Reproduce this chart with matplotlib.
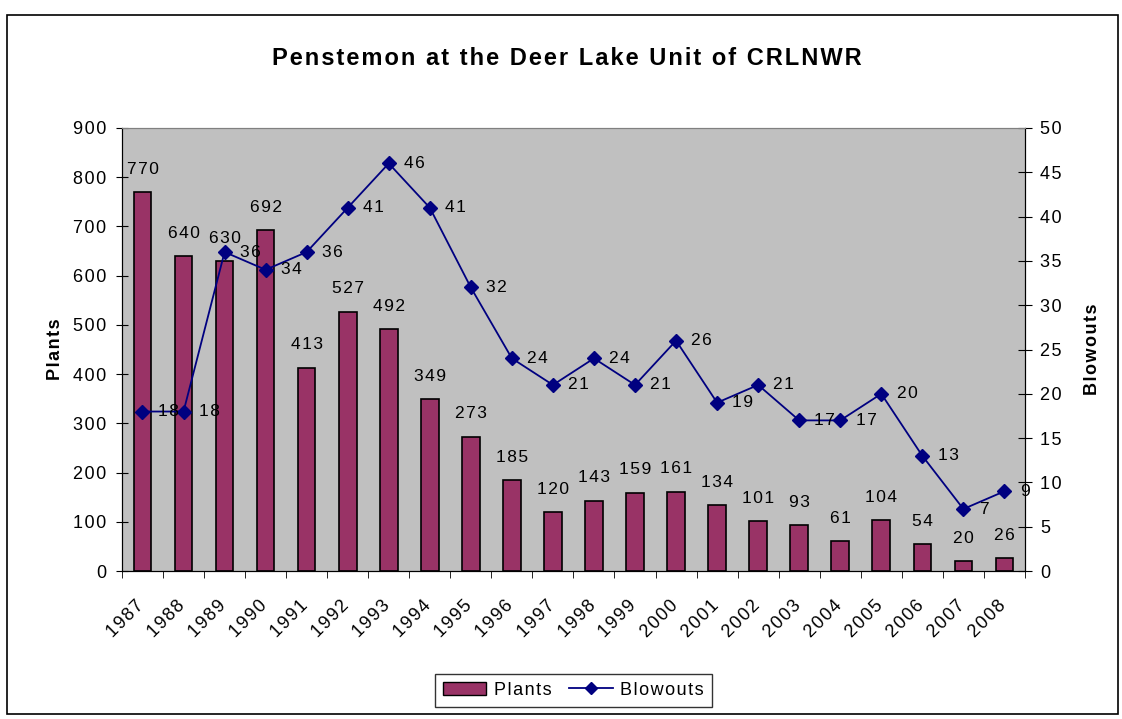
import matplotlib.pyplot as plt
import numpy as np
from matplotlib.patches import Rectangle
from matplotlib.lines import Line2D
from matplotlib.transforms import ScaledTranslation

plt.rcParams['font.family'] = ['Liberation Sans', 'DejaVu Sans']

years = ['1987', '1988', '1989', '1990', '1991', '1992', '1993', '1994', '1995', '1996', '1997',
         '1998', '1999', '2000', '2001', '2002', '2003', '2004', '2005', '2006', '2007', '2008']
plants = [770, 640, 630, 692, 413, 527, 492, 349, 273, 185, 120,
          143, 159, 161, 134, 101, 93, 61, 104, 54, 20, 26]
blowouts = [18, 18, 36, 34, 36, 41, 46, 41, 32, 24, 21,
            24, 21, 26, 19, 21, 17, 17, 20, 13, 7, 9]

bar_color = '#993366'
line_color = '#000080'


def spaced(s):
    # loose letter spacing with hair spaces
    return '\u200a'.join(str(s))


fig = plt.figure(figsize=(11.22, 7.19), dpi=100)
fig.patches.append(Rectangle((7 / 1122, 1 - 714 / 719), 1111 / 1122, 699 / 719,
                             transform=fig.transFigure, fill=False, edgecolor='black', lw=1.2))

ax = fig.add_axes([0.1087, 0.2058, 0.8048, 0.6162])
ax.set_facecolor('#c0c0c0')
x = np.arange(len(years))

ax.bar(x, plants, width=0.43, color=bar_color, edgecolor='black', linewidth=1.2, zorder=2)
for xi, v in zip(x, plants):
    ax.annotate(spaced(v), (xi, v), xytext=(0, 11), textcoords='offset points',
                ha='center', va='bottom', fontsize=12.5)

ax.set_xlim(-0.5, len(years) - 0.5)
ax.set_ylim(0, 900)
yt = np.arange(0, 901, 100)
ax.set_yticks(yt)
ax.set_yticklabels([spaced(v) for v in yt])
ax.set_xticks(x)
ax.set_xticklabels([spaced(y) for y in years], rotation=45, ha='right', va='top',
                   rotation_mode='anchor', fontsize=13)
ax.set_xticks(np.arange(-0.5, len(years), 1), minor=True)
ax.tick_params(axis='x', which='major', length=0, pad=19)
ax.tick_params(axis='x', which='minor', length=5, direction='out')
ax.tick_params(axis='y', length=9, direction='inout', labelsize=13, pad=7)
shift = ScaledTranslation(-7 / 100, 0, fig.dpi_scale_trans)
for lbl in ax.get_xticklabels():
    lbl.set_transform(lbl.get_transform() + shift)
ax.set_ylabel(spaced('Plants'), fontsize=13, fontweight='bold', labelpad=6)
ax.spines['top'].set_color('#808080')

ax2 = ax.twinx()
ax2.plot(x, blowouts, color=line_color, marker='D', markersize=7, lw=1.3, zorder=3)
for xi, v in zip(x, blowouts):
    ax2.annotate(spaced(v), (xi, v), xytext=(11, 0), textcoords='offset points',
                 ha='left', va='center', fontsize=12.5)
ax2.set_ylim(0, 50)
bt = np.arange(0, 51, 5)
ax2.set_yticks(bt)
ax2.set_yticklabels([spaced(v) for v in bt])
ax2.tick_params(axis='y', length=10, direction='inout', labelsize=13, pad=6)
ax2.set_ylabel(spaced('Blowouts'), fontsize=13, fontweight='bold', labelpad=16)
ax2.spines['top'].set_color('#808080')

fig.text(0.505, 0.919, spaced('Penstemon at the Deer Lake Unit of CRLNWR'),
         ha='center', va='center', fontsize=17, fontweight='bold')

handles = [Rectangle((0, 0), 1, 1, facecolor=bar_color, edgecolor='black'),
           Line2D([], [], color=line_color, marker='D', markersize=6, lw=1.3)]
leg = fig.legend(handles, [spaced('Plants'), spaced('Blowouts')], loc='center',
                 bbox_to_anchor=(0.511, 0.040), ncol=2, fontsize=13, frameon=True,
                 fancybox=False, edgecolor='black', handlelength=2.4, columnspacing=1.0,
                 handletextpad=0.4, borderpad=0.45)
leg.get_frame().set_linewidth(1.0)

fig.savefig('out.png', dpi=100)
